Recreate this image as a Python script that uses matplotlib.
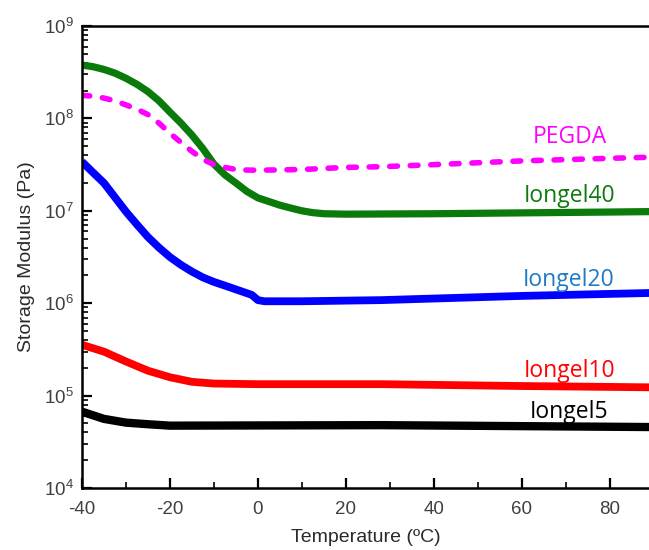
import numpy as np
import matplotlib.pyplot as plt
import matplotlib.ticker as mticker

plt.rcParams['font.family'] = ['Liberation Sans', 'DejaVu Sans']
plt.rcParams['mathtext.default'] = 'regular'
plt.rcParams['axes.unicode_minus'] = False

# storage modulus (Pa) vs temperature (C) for each sample
temp_green = [-40, -37.5, -35, -32.5, -30, -27.5, -25, -22.5, -20, -17.5, -15, -12.5,
              -10, -7.5, -5, -2.5, 0, 2.5, 5, 7.5, 10, 12.5, 15, 20, 40, 60, 80, 89]
iongel40 = [3.78e8, 3.63e8, 3.39e8, 3.09e8, 2.72e8, 2.34e8, 1.95e8, 1.55e8, 1.17e8,
            8.9e7, 6.6e7, 4.7e7, 3.2e7, 2.45e7, 2.0e7, 1.62e7, 1.38e7, 1.26e7, 1.15e7,
            1.07e7, 1.0e7, 9.55e6, 9.3e6, 9.2e6, 9.3e6, 9.5e6, 9.7e6, 9.8e6]

temp_pegda = [-40, -37.5, -35, -32.5, -30, -27.5, -25, -22.5, -20, -17.5, -15, -12.5,
              -10, -7.5, -5, -2.5, 0, 10, 20, 28, 40, 60, 80, 89]
pegda = [1.78e8, 1.74e8, 1.66e8, 1.55e8, 1.4e8, 1.26e8, 1.1e8, 8.9e7, 6.9e7, 5.5e7,
         4.4e7, 3.6e7, 3.16e7, 2.95e7, 2.8e7, 2.76e7, 2.75e7, 2.8e7, 2.95e7, 3.0e7,
         3.16e7, 3.47e7, 3.7e7, 3.8e7]

temp_blue = [-40, -37.5, -35, -32.5, -30, -27.5, -25, -22.5, -20, -17.5, -15, -12.5,
             -10, -7.5, -5, -1.4, 0, 1.5, 10, 28, 60, 89]
iongel20 = [3.4e7, 2.6e7, 2.0e7, 1.4e7, 9.8e6, 7.1e6, 5.2e6, 4.0e6, 3.16e6, 2.6e6,
            2.2e6, 1.9e6, 1.7e6, 1.55e6, 1.41e6, 1.23e6, 1.08e6, 1.05e6, 1.05e6,
            1.08e6, 1.2e6, 1.29e6]

temp_red = [-40, -35, -30, -25, -20, -15, -10, 0, 28, 60, 89]
iongel10 = [3.55e5, 2.99e5, 2.34e5, 1.86e5, 1.58e5, 1.41e5, 1.35e5, 1.33e5, 1.33e5,
            1.27e5, 1.23e5]

temp_black = [-40, -35, -30, -25, -20, 28, 89]
iongel5 = [6.7e4, 5.6e4, 5.1e4, 4.9e4, 4.73e4, 4.79e4, 4.57e4]

labels = ['PEGDA', 'Iongel40', 'Iongel20', 'Iongel10', 'Iongel5']
label_colors = ['#ff00ff', '#0e7a0e', '#1f7ac8', '#ff0000', '#000000']
label_pos = [(70.9, 6.3e7), (70.9, 1.45e7), (70.7, 1.78e6), (70.9, 1.85e5), (70.7, 6.6e4)]

fig = plt.figure(figsize=(6.49, 5.5), dpi=100)
ax = fig.add_axes([0.1263, 0.1127, 0.8737, 0.84])

ax.plot(temp_black, iongel5, color='black', lw=6.0, solid_capstyle='butt')
ax.plot(temp_red, iongel10, color='#ff0000', lw=5.6, solid_capstyle='butt')
ax.plot(temp_blue, iongel20, color='#0000ff', lw=5.6, solid_capstyle='butt')
ax.plot(temp_green, iongel40, color='#0a7a0a', lw=5.2, solid_capstyle='butt')
ax.plot(temp_pegda, pegda, color='#ff00ff', lw=4.0, ls=(0, (1.4, 2.3)),
        dash_capstyle='round')

for txt, c, (x, y) in zip(labels, label_colors, label_pos):
    ax.text(x, y, txt, color=c, fontsize=16.5, family=['Open Sans', 'DejaVu Sans'],
            ha='center', va='center')

ax.set_yscale('log')
ax.set_ylim(1e4, 1e9)
ax.set_xlim(-40, 88.9)
ax.set_xticks([-40, -20, 0, 20, 40, 60, 80])
ax.xaxis.set_minor_locator(mticker.MultipleLocator(10))
ax.yaxis.set_major_locator(mticker.LogLocator(base=10, numticks=10))
ax.yaxis.set_minor_locator(mticker.LogLocator(base=10, subs=np.arange(2, 10), numticks=20))
ax.yaxis.set_minor_formatter(mticker.NullFormatter())

for side in ['left', 'bottom', 'top']:
    ax.spines[side].set_linewidth(1.8)
ax.spines['right'].set_visible(False)

ax.tick_params(which='major', direction='in', length=7, width=1.6,
               labelsize=13.5, labelcolor='#404040', pad=6)
ax.tick_params(axis='x', which='major', pad=9)
ax.tick_params(which='minor', direction='in', length=4, width=1.2)
ax.tick_params(axis='x', which='both', top=False)

ax.set_xlabel('Temperature (ºC)', fontsize=14, color='#2a2a2a', labelpad=8)
ax.set_ylabel('Storage Modulus (Pa)', fontsize=14, color='#2a2a2a', labelpad=6)

fig.savefig('out.png', dpi=100)
